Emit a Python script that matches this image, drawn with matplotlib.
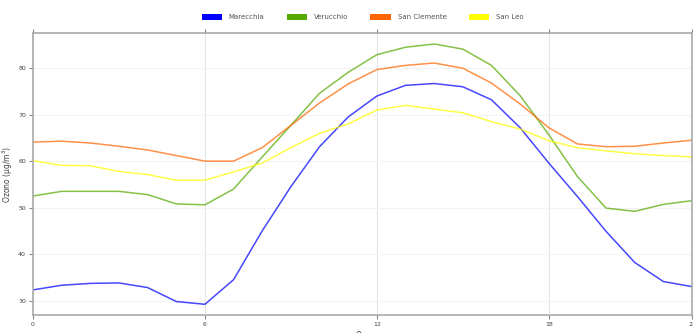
import matplotlib
matplotlib.use("Agg")
import matplotlib.pyplot as plt
from matplotlib.patches import Patch

hours = list(range(24))

marecchia = [32.3, 33.3, 33.7, 33.8, 32.8, 29.8, 29.2, 34.5, 45.0, 54.5, 63.1, 69.5,
             74.0, 76.3, 76.7, 76.0, 73.2, 67.2, 59.6, 52.4, 44.9, 38.2, 34.1, 33.0]
verucchio = [52.5, 53.5, 53.5, 53.5, 52.8, 50.8, 50.6, 54.0, 60.9, 67.7, 74.6, 79.1,
             82.9, 84.5, 85.2, 84.1, 80.6, 74.1, 65.7, 56.7, 49.9, 49.2, 50.7, 51.5]
san_clemente = [64.1, 64.3, 63.9, 63.2, 62.4, 61.2, 60.0, 60.0, 62.9, 67.7, 72.5, 76.6,
                79.7, 80.6, 81.1, 80.0, 76.8, 72.3, 67.2, 63.7, 63.1, 63.2, 63.9, 64.5]
san_leo = [60.1, 59.1, 59.0, 57.8, 57.1, 55.9, 55.9, 57.7, 59.6, 62.9, 66.0, 68.0,
           71.0, 72.0, 71.2, 70.4, 68.5, 66.9, 64.4, 62.9, 62.2, 61.6, 61.2, 60.9]

series_names = ["Marecchia", "Verucchio", "San Clemente", "San Leo"]
series_colors = ["#0000ff", "#55aa00", "#ff6600", "#ffff00"]
series_values = [marecchia, verucchio, san_clemente, san_leo]

x_ticks = [0, 6, 12, 18, 23]
y_ticks = [30, 40, 50, 60, 70, 80]

fig = plt.figure(figsize=(6.93, 3.33), dpi=100)
ax = fig.add_axes([33 / 693, 1 - 315 / 333, (692 - 33) / 693, (315 - 33.3) / 333])

for name, color, vals in zip(series_names, series_colors, series_values):
    ax.plot(hours, vals, color=color, lw=1.1, alpha=0.72, solid_joinstyle="round")

ax.set_xlim(0, 23)
ax.set_ylim(26.9, 87.5)
ax.set_xticks(x_ticks)
ax.set_yticks(y_ticks)
ax.tick_params(axis="both", labelsize=4.5, colors="#888888", labelcolor="#444444",
               length=3, width=0.8, pad=2)
ax.tick_params(axis="x", top=True, labeltop=False)

ax.grid(axis="x", color="#e4e4e4", lw=0.8)
ax.grid(axis="y", color="#f3f3f3", lw=0.8)
ax.set_axisbelow(True)

for side in ["left", "bottom", "top", "right"]:
    ax.spines[side].set_color("#aaaaaa")
    ax.spines[side].set_linewidth(1.2)

ax.set_ylabel("Ozono (µg/m$^3$)", fontsize=5.5, color="#444444", labelpad=2)
ax.set_xlabel("Ora", fontsize=5.5, color="#444444", labelpad=3)

handles = [Patch(facecolor=c, edgecolor="none") for c in series_colors]
fig.legend(handles, series_names, loc="center", bbox_to_anchor=(362.5 / 693, 1 - 17 / 333),
           ncol=4, frameon=False, fontsize=5, handlelength=2.9, handleheight=1.0,
           handletextpad=1.0, columnspacing=3.2, labelcolor="#555555")

fig.savefig("out.png", dpi=100)
